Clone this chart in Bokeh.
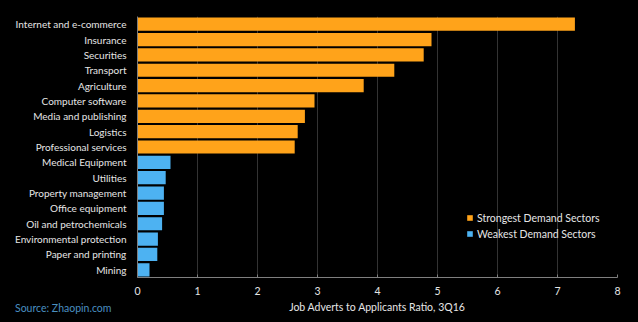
from bokeh.plotting import figure
from bokeh.layouts import column
from bokeh.models import Legend, LegendItem, ColumnDataSource, FixedTicker, Div
from bokeh.embed import file_html
from bokeh.resources import INLINE

strong_sectors = ["Internet and e-commerce", "Insurance", "Securities", "Transport", "Agriculture",
                  "Computer software", "Media and publishing", "Logistics", "Professional services"]
strong_values = [7.29, 4.90, 4.77, 4.28, 3.77, 2.95, 2.79, 2.67, 2.62]

weak_sectors = ["Medical Equipment", "Utilities", "Property management", "Office equipment",
                "Oil and petrochemicals", "Environmental protection", "Paper and printing", "Mining"]
weak_values = [0.55, 0.47, 0.44, 0.44, 0.41, 0.34, 0.33, 0.20]

x_ticks = [0, 1, 2, 3, 4, 5, 6, 7, 8]
axis_title = "Job Adverts to Applicants Ratio, 3Q16"
source_note = "Source: Zhaopin.com"

FONT = "Lato"
TEXT = "#e6e6e6"
ORANGE = "#ffa31a"
BLUE = "#4db2f2"

factors = list(reversed(strong_sectors + weak_sectors))

p = figure(width=638, height=300, y_range=factors, x_range=(0, 8),
           output_backend="svg", toolbar_location=None,
           background_fill_color="black", border_fill_color="black",
           min_border_left=137, min_border_right=21, min_border_top=16, min_border_bottom=23)
p.outline_line_color = None

s1 = ColumnDataSource(dict(y=strong_sectors, x=strong_values))
s2 = ColumnDataSource(dict(y=weak_sectors, x=weak_values))
r1 = p.hbar(y="y", right="x", left=0, height=0.86, source=s1, fill_color=ORANGE, line_color=None)
r2 = p.hbar(y="y", right="x", left=0, height=0.86, source=s2, fill_color=BLUE, line_color=None)

p.xaxis.ticker = FixedTicker(ticks=x_ticks)
p.xaxis.major_label_text_font = FONT
p.xaxis.major_label_text_font_size = "10.5px"
p.xaxis.major_label_text_color = TEXT
p.xaxis.major_label_standoff = 9
p.xaxis.axis_line_color = "#7f7f7f"
p.xaxis.major_tick_line_color = "#7f7f7f"
p.xaxis.major_tick_in = 3
p.xaxis.major_tick_out = 0
p.xaxis.minor_tick_line_color = None

p.yaxis.major_label_text_font = FONT
p.yaxis.major_label_text_font_size = "10px"
p.yaxis.major_label_text_color = TEXT
p.yaxis.axis_line_color = "#7f7f7f"
p.yaxis.major_tick_line_color = None
p.yaxis.major_label_standoff = 5

p.xgrid.grid_line_color = "#333333"
p.ygrid.grid_line_color = None

legend = Legend(items=[LegendItem(label="Strongest Demand Sectors", renderers=[r1]),
                       LegendItem(label="Weakest Demand Sectors", renderers=[r2])],
                location=(329, 37), background_fill_alpha=0, border_line_color=None,
                label_text_font=FONT, label_text_font_size="10.5px", label_text_color=TEXT,
                glyph_width=7, glyph_height=7, spacing=3, label_height=13, padding=4, margin=0,
                label_standoff=4)
p.add_layout(legend)

# footer strip with the axis title (centred under the plot frame) and the source note
foot_html = (
    '<div style="position:relative;width:638px;height:22px;background:#000;'
    'font-family:Lato,sans-serif;font-size:10.5px;line-height:14px;margin:0;padding:0;">'
    '<span style="position:absolute;left:15px;top:1px;color:#4a8fc0;white-space:nowrap;">'
    + source_note + '</span>'
    '<span style="position:absolute;left:137px;width:480px;top:0px;text-align:center;'
    'color:' + TEXT + ';white-space:nowrap;">' + axis_title + '</span>'
    '</div>'
)
foot = Div(text=foot_html, width=638, height=22, margin=0,
           styles={"background-color": "black", "margin": "0", "padding": "0"})

layout = column(p, foot, spacing=0, styles={"background-color": "black"})
open("out.html", "w").write(file_html(layout, INLINE))
